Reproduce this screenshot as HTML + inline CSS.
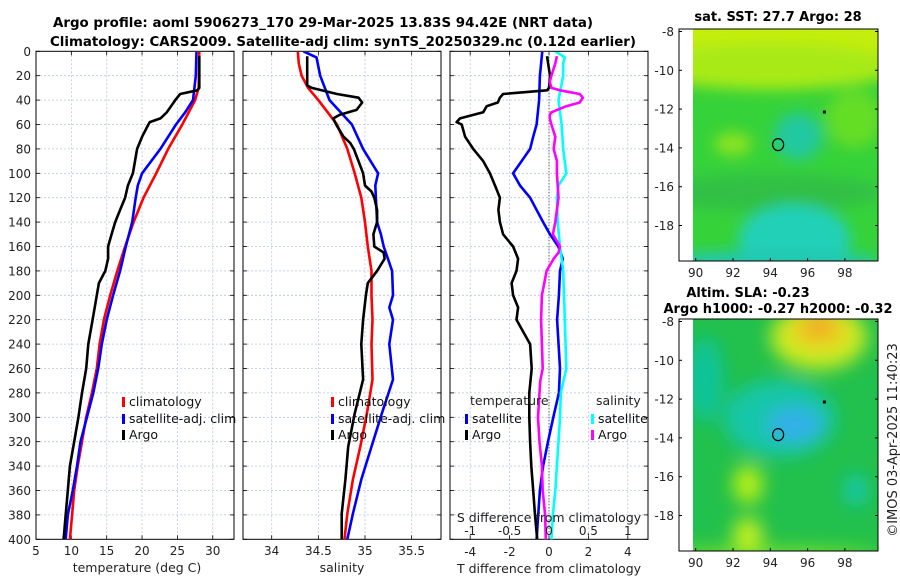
<!DOCTYPE html>
<html><head><meta charset="utf-8"><style>
html,body{margin:0;padding:0;background:#fff;}
svg{display:block;font-family:"DejaVu Sans","Liberation Sans",sans-serif;}
</style></head><body>
<svg id="chart" width="900" height="580" viewBox="0 0 900 580" xmlns="http://www.w3.org/2000/svg">
<defs>
<filter id="blur1" x="-50%" y="-50%" width="200%" height="200%"><feGaussianBlur stdDeviation="7"/></filter>
<filter id="blur2" x="-50%" y="-50%" width="200%" height="200%"><feGaussianBlur stdDeviation="9"/></filter>
<clipPath id="clipM1"><rect x="693" y="29" width="185" height="232"/></clipPath>
<clipPath id="clipM2"><rect x="693" y="319" width="185" height="232"/></clipPath>
<clipPath id="clipP1"><rect x="36" y="52" width="198" height="488"/></clipPath>
<clipPath id="clipP2"><rect x="243" y="52" width="198" height="488"/></clipPath>
<clipPath id="clipP3"><rect x="450" y="52" width="198" height="488"/></clipPath>
</defs>
<g font-weight="bold" font-size="13" fill="#000">
<text x="323" y="27" text-anchor="middle" textLength="540" lengthAdjust="spacingAndGlyphs">Argo profile: aoml 5906273_170 29-Mar-2025 13.83S 94.42E (NRT data)</text>
<text x="343" y="46" text-anchor="middle" textLength="586" lengthAdjust="spacingAndGlyphs">Climatology: CARS2009. Satellite-adj clim: synTS_20250329.nc (0.12d earlier)</text>
<text x="778" y="21" text-anchor="middle">sat. SST: 27.7 Argo: 28</text>
<text x="748" y="297" text-anchor="middle">Altim. SLA: -0.23</text>
<text x="778" y="313" text-anchor="middle">Argo h1000: -0.27 h2000: -0.32</text>
</g>
<g id="maps"></g>
<g id="panels"></g>
<text transform="translate(897,440) rotate(-90)" text-anchor="middle" font-size="13" fill="#222">©IMOS 03-Apr-2025 11:40:23</text>
</svg>
<script>
// ---- data ----
const depthTicks = [0,20,40,60,80,100,120,140,160,180,200,220,240,260,280,300,320,340,360,380,400];
const tempTicks = [5,10,15,20,25,30];
const salTicks = [34,34.5,35,35.5];
const dTTicks = [-4,-2,0,2,4];
const dSTicks = [-1,-0.5,0,0.5,1];
const dSTickLabels = ['-1','-0.5','0','0.5','1'];

const tClimDepth = [0,30,40,60,80,100,120,140,160,180,200,220,240,260,280,300,320,340,360,380,400];
const tClim = [28.1,28,27.5,25.7,23.7,22,20.2,18.8,17.6,16.5,15.5,14.6,14,13.6,12.9,12.1,11.5,10.9,10.4,10.1,9.8];
const tSatDepth = [0,20,40,50,60,80,100,110,120,140,160,180,200,220,240,260,280,300,320,340,360,380,400];
const tSat = [27.7,27.6,27.2,26.1,24.8,22.6,20,19.4,19.1,18.6,17.7,16.9,15.9,15,14.3,13.8,13.1,12.2,11.3,10.8,10.2,9.5,9.2];
const tArgoDepth = [4,30,32,35,40,50,55,58,60,70,80,90,100,110,120,130,140,150,160,170,180,190,200,220,240,260,280,300,320,340,360,380,400];
const tArgo = [28.1,28.1,27.8,25.4,24.7,23.5,22.6,21.1,20.9,20,19.3,19,18.7,18,17.6,16.9,16.2,15.7,15.2,15.2,14.8,13.9,13.6,13,12.4,12.1,11.5,11,10.4,9.8,9.5,9.2,8.9];

const sClimDepth = [0,10,20,30,40,50,60,80,100,120,140,160,180,200,220,240,269,297,324,351,379,400];
const sClim = [34.28,34.29,34.32,34.39,34.5,34.6,34.7,34.81,34.89,34.96,35.0,35.03,35.07,35.07,35.08,35.07,35.08,35.02,34.95,34.87,34.81,34.78];
const sSatDepth = [0,5,20,40,60,80,100,110,140,150,160,180,200,210,220,240,269,297,324,351,379,400];
const sSat = [34.34,34.48,34.52,34.62,34.86,34.98,35.14,35.11,35.13,35.17,35.2,35.29,35.3,35.26,35.3,35.26,35.3,35.18,35.07,34.96,34.87,34.81];
const sArgoDepth = [4,28,30,35,38,42,48,52,55,60,70,75,80,90,100,110,115,120,130,140,150,160,165,170,180,190,200,220,240,269,297,324,351,379,400];
const sArgo = [34.38,34.38,34.43,34.7,34.93,34.97,34.91,34.73,34.66,34.69,34.77,34.84,34.88,34.93,34.98,35.0,35.07,35.1,35.13,35.13,35.09,35.1,35.2,35.21,35.13,35.03,35.01,34.98,34.96,34.98,34.89,34.82,34.79,34.75,34.75];

const dTSatDepth = [0,20,40,60,70,80,90,100,110,120,140,150,160,170,180,200,220,260,280,300,320,340,360,380,400];
const dTSat = [-0.34,-0.46,-0.5,-0.63,-0.8,-0.96,-1.39,-1.82,-1.47,-0.96,-0.3,0.05,0.47,0.7,0.56,0.5,0.41,0.56,0.5,0.22,-0.05,-0.3,-0.46,-0.55,-0.63];
const dTArgoDepth = [4,20,30,32,35,38,42,45,50,55,58,60,70,80,90,100,110,120,130,140,150,160,170,180,190,200,210,220,240,260,280,300,320,340,360,380,400];
const dTArgo = [-0.1,0.05,0.0,-0.1,-2.33,-2.49,-2.6,-3.16,-3.34,-4.52,-4.69,-4.43,-4.26,-3.85,-3.34,-3.0,-2.74,-2.49,-2.57,-2.49,-2.33,-1.82,-1.57,-1.65,-1.9,-1.82,-1.57,-1.65,-0.96,-0.88,-1.0,-1.0,-0.96,-0.9,-0.8,-0.71,-0.6];
const dSSatDepth = [0,5,10,20,40,60,80,100,110,120,140,160,180,200,220,260,280,300,320,340,360,380,400];
const dSSat = [0.08,0.2,0.18,0.18,0.12,0.16,0.18,0.22,0.12,0.1,0.11,0.14,0.18,0.19,0.2,0.22,0.15,0.14,0.12,0.1,0.08,0.05,0.03];
const dSArgoDepth = [4,10,20,25,30,32,35,38,42,45,50,52,55,60,70,80,90,100,120,140,150,160,165,170,180,190,200,220,240,260,270,280,300,320,340,360,380,400];
const dSArgo = [0.1,0.08,0.03,0.01,0.03,0.14,0.39,0.43,0.39,0.22,0.03,0.01,0.01,0.03,0.08,0.06,0.1,0.1,0.12,0.08,0.05,0.14,0.12,0.06,-0.03,-0.06,-0.09,-0.1,-0.09,-0.08,-0.11,-0.12,-0.14,-0.12,-0.09,-0.08,-0.05,-0.04];

const mapLonTicks = [90,92,94,96,98];
const mapLatTicks = [-8,-10,-12,-14,-16,-18];
const argoLon = 94.42, argoLat = -13.83;

// ---- helpers ----
const NS='http://www.w3.org/2000/svg';
function mk(tag, attrs, parent){const e=document.createElementNS(NS,tag);for(const k in attrs)e.setAttribute(k,attrs[k]);if(parent)parent.appendChild(e);return e;}
const panels=document.getElementById('panels');
const yD = d => 51.3 + d*1.22;
const xT = t => 36 + (t-5)*7.07;
const xS = s => 271.7 + (s-34)*93.3;
const xDT = v => 549 + v*19.7;
const xDS = v => 549 + v*78.8;

function frame(x0,x1,gridXs,name){
  const g=mk('g',{},panels);
  
  
  depthTicks.forEach(d=>{ if(d>0&&d<400) mk('line',{x1:x0,x2:x1,y1:yD(d),y2:yD(d),stroke:'#b8c4e0','stroke-width':0.8,'stroke-dasharray':'2,2'},g);});
  gridXs.forEach(x=>{ mk('line',{x1:x,x2:x,y1:yD(0),y2:yD(400),stroke:'#b8c4e0','stroke-width':0.8,'stroke-dasharray':'2,2'},g);});
  depthTicks.forEach(d=>{ mk('line',{x1:x0,x2:x0+4,y1:yD(d),y2:yD(d),stroke:'#000','stroke-width':0.8},g); mk('line',{x1:x1-4,x2:x1,y1:yD(d),y2:yD(d),stroke:'#000','stroke-width':0.8},g);});
  gridXs.forEach(x=>{ mk('line',{x1:x,x2:x,y1:yD(0),y2:yD(0)+4,stroke:'#000','stroke-width':0.8},g); mk('line',{x1:x,x2:x,y1:yD(400)-4,y2:yD(400),stroke:'#000','stroke-width':0.8},g);});
  mk('rect',{x:x0,y:yD(0),width:x1-x0,height:yD(400)-yD(0),fill:'none',stroke:'#000','stroke-width':1},g);
  return g;
}
function line(xs, depths, xf, color, clip, name, w){
  let d='';
  xs.forEach((v,i)=>{ d += (i?'L':'M') + xf(v).toFixed(1)+','+yD(depths[i]).toFixed(1); });
  const p=mk('path',{d:d,fill:'none',stroke:color,'stroke-width':w||2.6,'stroke-linejoin':'round','clip-path':'url(#'+clip+')'},panels);
  
  
}
function text(x,y,s,anchor,size,name,parent,color){
  const t=mk('text',{x:x,y:y,'text-anchor':anchor||'start','font-size':size||12,fill:color||'#222'},parent||panels);
  t.textContent=s;
  
  
  return t;
}
function legendRow(xm,y,color,label,name){
  const r=mk('rect',{x:xm,y:y-8,width:3,height:10,fill:color},panels);
  
  
  text(xm+7,y+1,label,'start',12.5,name,panels,'#111');
}

// ---- panel 1: temperature ----
frame(36,234,tempTicks.map(xT),'temperature-panel');
depthTicks.forEach(d=>text(31,yD(d)+4.5,String(d),'end',12,'depth-tick-label'));
tempTicks.forEach(t=>text(xT(t),555,String(t),'middle',12,'temp-tick-label'));
text(137,572,'temperature (deg C)','middle',12.5,'temperature-axis-title');
line(tClim,tClimDepth,xT,'#ff0000','clipP1','temp-climatology-line');
line(tSat,tSatDepth,xT,'#0000ff','clipP1','temp-satellite-line');
line(tArgo,tArgoDepth,xT,'#000000','clipP1','temp-argo-line');
legendRow(122,405,'#ff0000','climatology','legend-climatology');
legendRow(122,422,'#0000ff','satellite-adj. clim','legend-satellite');
legendRow(122,438,'#000000','Argo','legend-argo');

// ---- panel 2: salinity ----
frame(243,441,salTicks.map(xS),'salinity-panel');
salTicks.forEach(s=>text(xS(s),555,String(s),'middle',12,'salinity-tick-label'));
text(342,572,'salinity','middle',12.5,'salinity-axis-title');
line(sClim,sClimDepth,xS,'#ff0000','clipP2','sal-climatology-line');
line(sSat,sSatDepth,xS,'#0000ff','clipP2','sal-satellite-line');
line(sArgo,sArgoDepth,xS,'#000000','clipP2','sal-argo-line');
legendRow(331,405,'#ff0000','climatology','legend-sal-climatology');
legendRow(331,422,'#0000ff','satellite-adj. clim','legend-sal-satellite');
legendRow(331,438,'#000000','Argo','legend-sal-argo');

// ---- panel 3: differences ----
frame(450,648,dTTicks.map(xDT),'difference-panel');
mk('line',{x1:xDT(0),x2:xDT(0),y1:yD(0),y2:yD(400),stroke:'#333','stroke-width':1,'stroke-dasharray':'1,2'},panels);
line(dTSat,dTSatDepth,xDT,'#0000ff','clipP3','dT-satellite-line');
line(dTArgo,dTArgoDepth,xDT,'#000000','clipP3','dT-argo-line');
line(dSSat,dSSatDepth,xDS,'#00ffff','clipP3','dS-satellite-line');
line(dSArgo,dSArgoDepth,xDS,'#ff00ff','clipP3','dS-argo-line');
dTTicks.forEach(t=>text(xDT(t),556,String(t),'middle',12,'dT-tick-label'));
text(549,573,'T difference from climatology','middle',12.5,'dT-axis-title');
text(549,522,'S difference from climatology','middle',12.5,'dS-axis-title');
dSTicks.forEach((s,i)=>text(xDS(s),535,dSTickLabels[i],'middle',12,'dS-tick-label'));
text(470,405,'temperature','start',12.5,'legend-temperature-heading');
text(596,405,'salinity','start',12.5,'legend-salinity-heading');
legendRow(465,422,'#0000ff','satellite','legend-dT-satellite');
legendRow(465,438,'#000000','Argo','legend-dT-argo');
legendRow(591,422,'#00ffff','satellite','legend-dS-satellite');
legendRow(591,438,'#ff00ff','Argo','legend-dS-argo');

// ---- maps ----
const maps=document.getElementById('maps');
function drawMap(top, clip, blobs, base, name, filt){
  const g=mk('g',{},maps);
  
  
  const mx = lon => 695.7 + (lon-90)*18.65;
  const my = lat => top + 2.5 + (-8-lat)*19.4;
  const inner=mk('g',{'clip-path':'url(#'+clip+')'},g);
  mk('rect',{x:693,y:top,width:185,height:232,fill:base},inner);
  const bg=mk('g',{filter:'url(#'+filt+')'},inner);
  blobs.forEach(b=>mk('ellipse',{cx:mx(b[0]),cy:my(b[1]),rx:b[2]*18.65,ry:b[3]*19.4,fill:b[4],opacity:b[5]||1},bg));
  mk('rect',{x:679,y:top,width:199,height:232,fill:'none',stroke:'#000','stroke-width':1},g);
  mapLatTicks.forEach(l=>{ mk('line',{x1:679,x2:682,y1:my(l),y2:my(l),stroke:'#000'},g); mk('line',{x1:875,x2:878,y1:my(l),y2:my(l),stroke:'#000'},g);
    text(674,my(l)+4.5,String(l),'end',12,'map-lat-label',g);});
  mapLonTicks.forEach(l=>{ mk('line',{x1:mx(l),x2:mx(l),y1:top+232,y2:top+229,stroke:'#000'},g);
    text(mx(l),top+248,String(l),'middle',12,'map-lon-label',g);});
  const c=mk('ellipse',{cx:mx(argoLon),cy:my(argoLat),rx:5.5,ry:6,fill:'none',stroke:'#000','stroke-width':1.2},g);
  
  
  mk('rect',{x:mx(96.9)-1.5,y:my(-12.15)-1.5,width:3,height:3,fill:'#000'},g);
}
drawMap(29,'clipM1',[
  [94,-8.3,7,1.8,'#c4ee10'],
  [94,-9.8,7,1.2,'#a8ea18'],
  [98.5,-12.5,1.5,1.5,'#70e020',0.8],
  [92,-13.8,1,0.6,'#a0e818',0.8],
  [95.5,-13.4,1.3,1.2,'#20c8a0'],
  [94,-16.3,6,1.0,'#2cb848',0.7],
  [95.3,-18.7,3.0,1.8,'#20d0b8'],
  [94,-19.9,6,0.6,'#20c8b0'],
],'#36d23a','sst-map','blur1');
drawMap(319,'clipM2',[
  [96.6,-8.8,2.6,1.7,'#c8ec20'],
  [96.6,-8.5,1.6,1.0,'#ecd020'],
  [96.6,-8.2,0.8,0.5,'#f0a028'],
  [90.5,-11,1.0,2.2,'#10c49a'],
  [94.5,-13,3,2,'#12c6a8'],
  [95.3,-13.3,1.5,0.9,'#30b0e8'],
  [92.8,-16.4,0.8,1.0,'#b8f018'],
  [92.8,-19,0.8,0.9,'#c4f020'],
  [98.6,-16.7,0.6,0.8,'#12c8b4'],
  [94,-20,6,0.3,'#90e820'],
],'#22c04c','sla-map','blur2');
</script>
</body></html>
